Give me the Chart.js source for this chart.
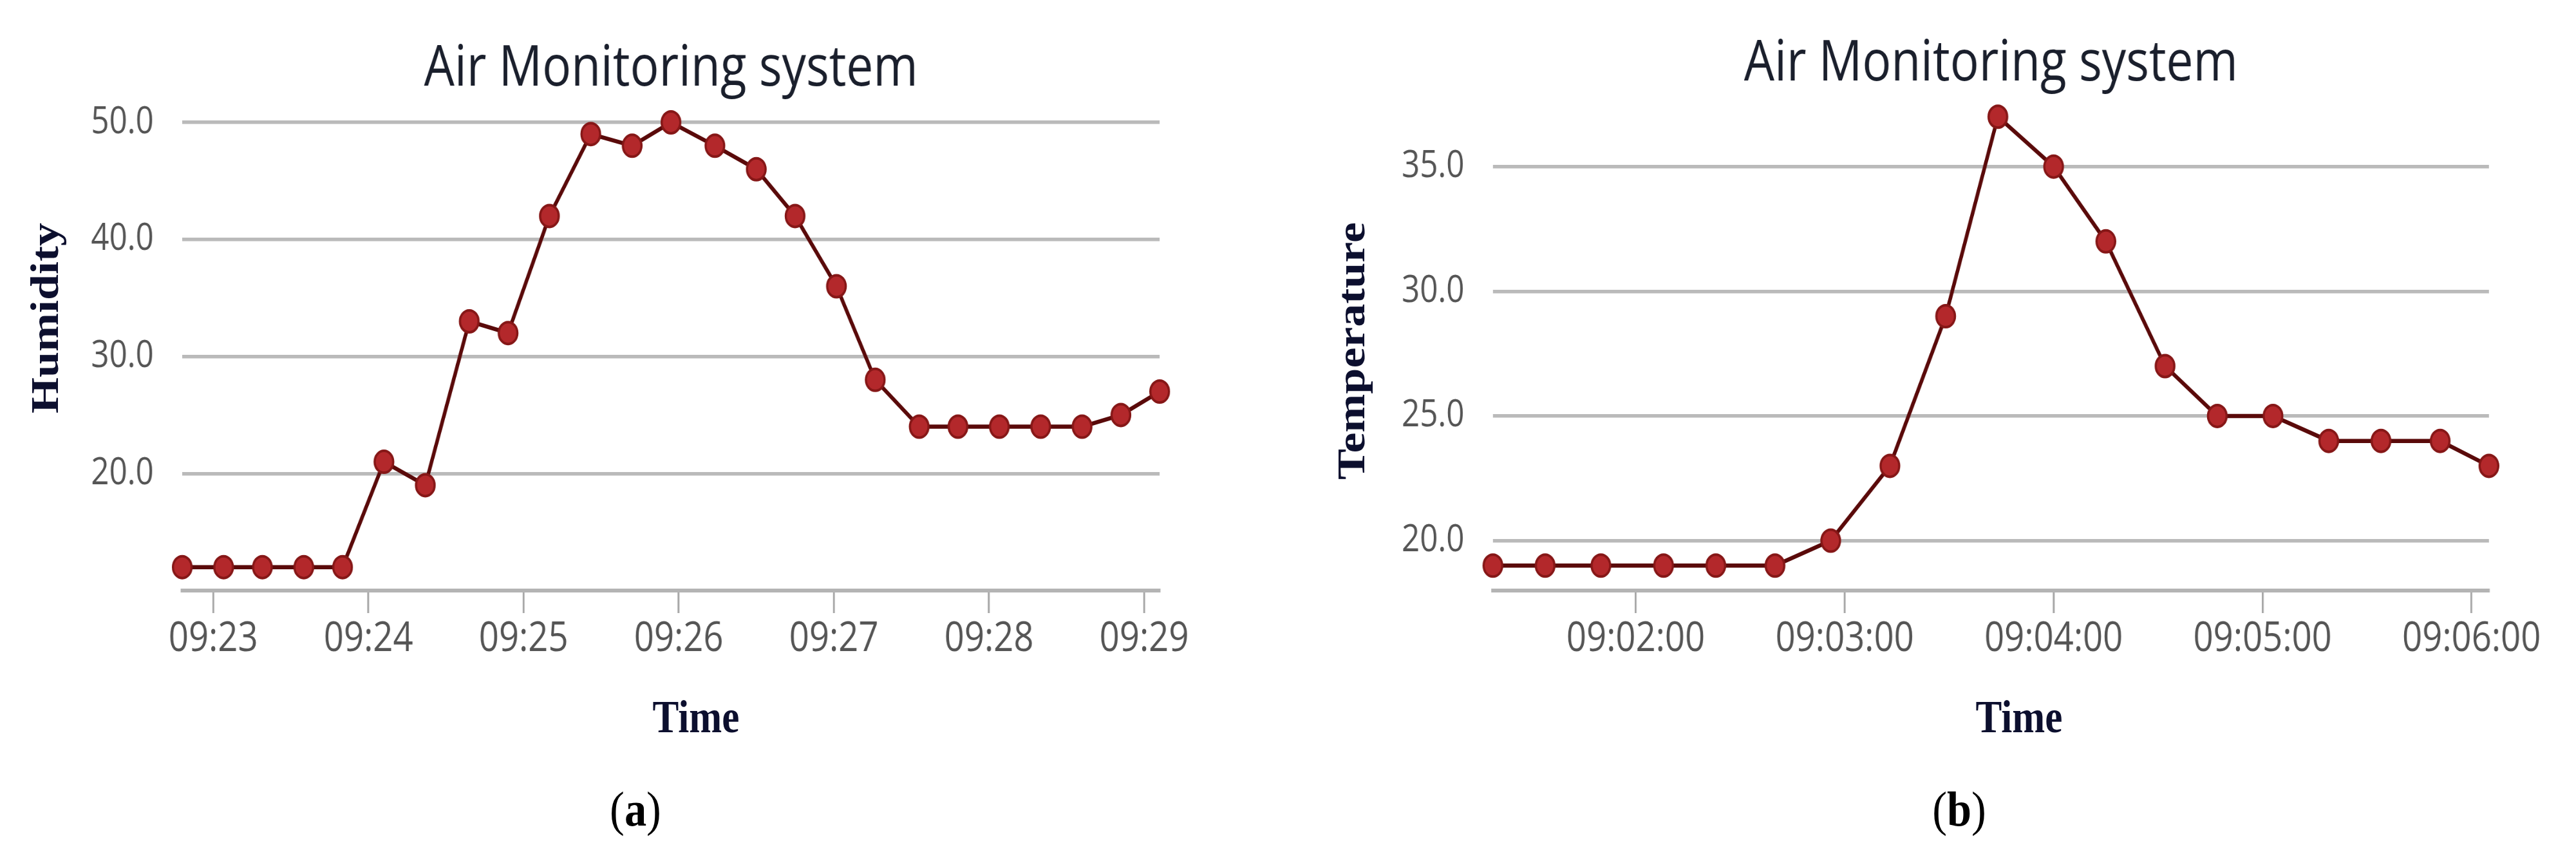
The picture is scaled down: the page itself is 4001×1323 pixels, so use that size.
<!DOCTYPE html>
<html>
<head>
<meta charset="utf-8">
<script src="https://cdn.jsdelivr.net/npm/chart.js@4.4.1/dist/chart.umd.min.js"></script>
<style>
  html, body { margin: 0; padding: 0; background: #fff; }
  body { width: 4001px; height: 1323px; position: relative; overflow: hidden; }
  canvas { position: absolute; top: 0; transform-origin: 0 0; transform: scaleX(0.85); }
  #chartA { left: 0; }
  #chartB { left: 2000px; }
  .axt { position: absolute; font-family: "Liberation Serif", "Times New Roman", serif; font-weight: bold;
         font-size: 72px; line-height: 1; color: #0c0f2e; white-space: nowrap; }
  .cap { position: absolute; font-family: "Liberation Serif", "Times New Roman", serif;
         font-size: 76px; line-height: 1; color: #000; white-space: nowrap;
         transform: translateX(-50%) scaleX(0.9); }
</style>
</head>
<body>
<canvas id="chartA" width="2353" height="1323" style="width:2353px;height:1323px"></canvas>
<canvas id="chartB" width="2354" height="1323" style="width:2354px;height:1323px"></canvas>

<div class="axt" style="left:70px;top:494px;transform:translate(-50%,-50%) scaleX(0.85) rotate(-90deg)">Humidity</div>
<div class="axt" style="left:1081px;top:1077px;transform:translateX(-50%) scaleX(0.85)">Time</div>
<div class="axt" style="left:2099px;top:545px;transform:translate(-50%,-50%) scaleX(0.85) rotate(-90deg)">Temperature</div>
<div class="axt" style="left:3136px;top:1077px;transform:translateX(-50%) scaleX(0.85)">Time</div>
<div class="cap" style="left:987px;top:1218px">(<b>a</b>)</div>
<div class="cap" style="left:3043px;top:1218px">(<b>b</b>)</div>

<script>
// (a) humidity
const humTimes = ['09:22:48', '09:23:04', '09:23:19', '09:23:35', '09:23:50', '09:24:06', '09:24:22',
  '09:24:39', '09:24:54', '09:25:10', '09:25:26', '09:25:42', '09:25:57', '09:26:14', '09:26:30',
  '09:26:45', '09:27:01', '09:27:16', '09:27:33', '09:27:48', '09:28:04', '09:28:20', '09:28:36',
  '09:28:51', '09:29:06'];
const humValues = [12, 12, 12, 12, 12, 21, 19, 33, 32, 42, 49, 48, 50, 48, 46, 42, 36, 28, 24, 24, 24, 24, 24, 25, 27];
const humXTicks = ['09:23', '09:24', '09:25', '09:26', '09:27', '09:28', '09:29'];
const humYTicks = [20, 30, 40, 50];

// (b) temperature
const tempTimes = ['09:01:19', '09:01:34', '09:01:50', '09:02:08', '09:02:23', '09:02:40', '09:02:56',
  '09:03:13', '09:03:29', '09:03:44', '09:04:00', '09:04:15', '09:04:32', '09:04:47', '09:05:03',
  '09:05:19', '09:05:34', '09:05:51', '09:06:05'];
const tempValues = [19, 19, 19, 19, 19, 19, 20, 23, 29, 37, 35, 32, 27, 25, 25, 24, 24, 24, 23];
const tempXTicks = ['09:02:00', '09:03:00', '09:04:00', '09:05:00', '09:06:00'];
const tempYTicks = [20, 25, 30, 35];

const chartTitle = 'Air Monitoring system';

function toSec(t) {
  const p = t.split(':').map(Number);
  return p[0] * 3600 + p[1] * 60 + (p[2] || 0);
}

// title centred over the plot area
const plotTitle = {
  id: 'plotTitle',
  afterDraw(chart, args, opts) {
    const {ctx, chartArea} = chart;
    ctx.save();
    ctx.font = '400 88px "Open Sans"';
    ctx.fillStyle = '#1a1f2c';
    ctx.textAlign = 'center';
    ctx.textBaseline = 'alphabetic';
    ctx.fillText(opts.text, (chartArea.left + chartArea.right) / 2, opts.y);
    ctx.restore();
  }
};

Chart.defaults.font.family = '"Open Sans", sans-serif';

function makeChart(id, cfg) {
  const xLabels = {};
  cfg.xTicks.forEach(t => { xLabels[toSec(t)] = t; });
  const points = cfg.times.map((t, i) => ({x: toSec(t), y: cfg.values[i]}));

  return new Chart(document.getElementById(id), {
    type: 'line',
    data: {
      datasets: [{
        data: points,
        borderColor: '#5a0a0a',
        borderWidth: 6.5,
        backgroundColor: '#b22a2d',
        pointBackgroundColor: '#b3282b',
        pointBorderColor: '#861717',
        pointBorderWidth: 4,
        pointRadius: 17,
        tension: 0,
        clip: false
      }]
    },
    plugins: [plotTitle],
    options: {
      responsive: false,
      animation: false,
      layout: {padding: {top: cfg.padTop, right: cfg.padRight, bottom: 0, left: 0}},
      plugins: {
        legend: {display: false},
        tooltip: {enabled: false},
        plotTitle: {text: chartTitle, y: cfg.titleY}
      },
      scales: {
        x: {
          type: 'linear',
          min: points[0].x,
          max: points[points.length - 1].x,
          afterBuildTicks: s => { s.ticks = cfg.xTicks.map(t => ({value: toSec(t)})); },
          afterFit: s => { s.height = 406; },
          grid: {drawOnChartArea: false, drawTicks: true, tickLength: 35, color: '#a8a8a8', lineWidth: 3.5},
          border: {display: true, color: '#b4b4b4', width: 6},
          ticks: {
            autoSkip: false, maxRotation: 0, padding: 2,
            color: '#555', font: {size: 64},
            callback: v => xLabels[v] || ''
          }
        },
        y: {
          min: cfg.yMin,
          max: cfg.yMax,
          afterBuildTicks: s => { s.ticks = cfg.yTicks.map(v => ({value: v})); },
          afterFit: s => { s.width = cfg.yWidth; },
          grid: {drawTicks: false, color: '#bababa', lineWidth: 5.5},
          border: {display: false},
          ticks: {
            padding: 52, color: '#555', font: {size: 58},
            callback: v => Number(v).toFixed(1)
          }
        }
      }
    }
  });
}

makeChart('chartA', {
  times: humTimes, values: humValues, xTicks: humXTicks, yTicks: humYTicks,
  yMin: 10, yMax: 50, padTop: 190, padRight: 234, yWidth: 333, titleY: 133
});

makeChart('chartB', {
  times: tempTimes, values: tempValues, xTicks: tempXTicks, yTicks: tempYTicks,
  yMin: 18, yMax: 37.6, padTop: 158, padRight: 159, yWidth: 375, titleY: 125
});
</script>
</body>
</html>
